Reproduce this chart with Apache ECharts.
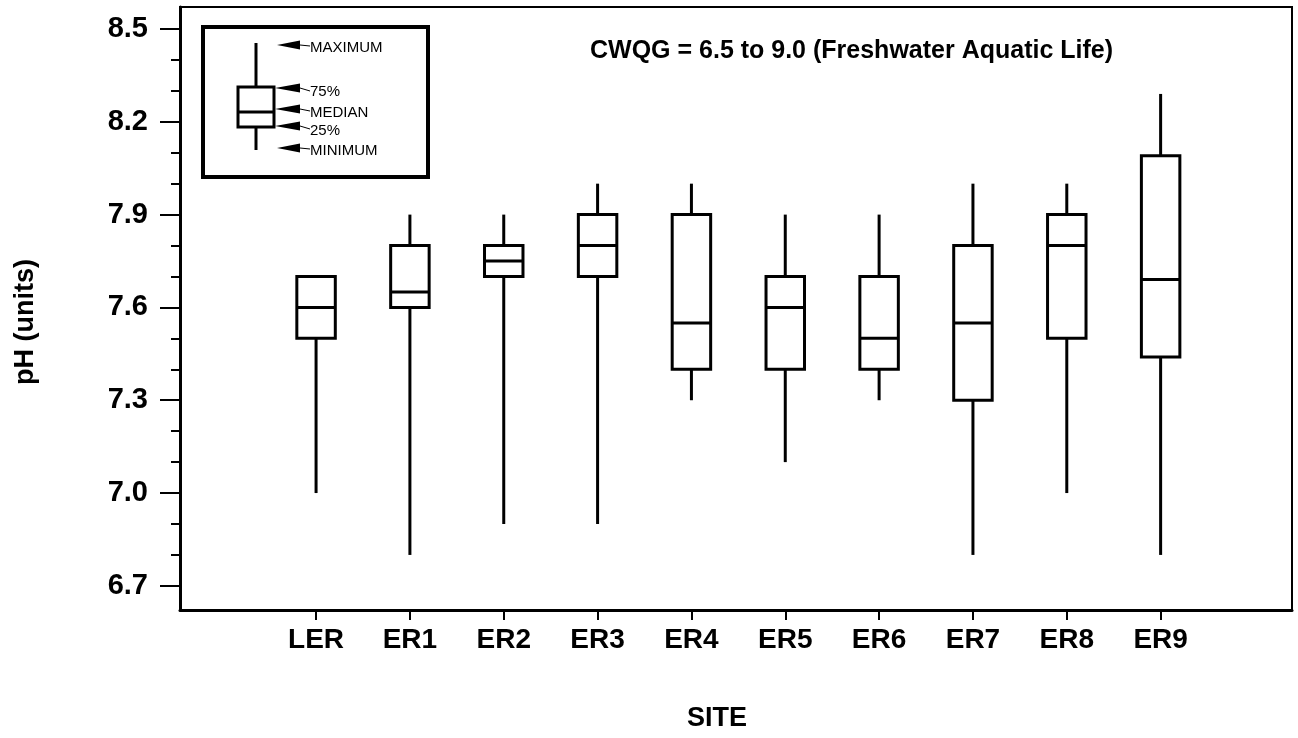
<!DOCTYPE html>
<html>
<head>
<meta charset="utf-8">
<script src="https://cdn.jsdelivr.net/npm/echarts@6/dist/echarts.min.js"></script>
<style>
html,body{margin:0;padding:0;background:#fff;}
#chart{width:1298px;height:738px;}
</style>
</head>
<body>
<div id="chart"></div>
<script>
// ---- data ----
var sites   = ['LER','ER1','ER2','ER3','ER4','ER5','ER6','ER7','ER8','ER9'];
var minimum = [7.0, 6.8, 6.9, 6.9, 7.3, 7.1, 7.3, 6.8, 7.0, 6.8];
var q25     = [7.5, 7.6, 7.7, 7.7, 7.4, 7.4, 7.4, 7.3, 7.5, 7.44];
var median  = [7.6, 7.65, 7.75, 7.8, 7.55, 7.6, 7.5, 7.55, 7.8, 7.69];
var q75     = [7.7, 7.8, 7.8, 7.9, 7.9, 7.7, 7.7, 7.8, 7.9, 8.09];
var maximum = [7.7, 7.9, 7.9, 8.0, 8.0, 7.9, 7.9, 8.0, 8.0, 8.29];
var yTickLabels = [6.7, 7.0, 7.3, 7.6, 7.9, 8.2, 8.5];
var yMinorTicks = [6.7,6.8,6.9,7.0,7.1,7.2,7.3,7.4,7.5,7.6,7.7,7.8,7.9,8.0,8.1,8.2,8.3,8.4,8.5];
var titleText = 'CWQG = 6.5 to 9.0 (Freshwater Aquatic Life)';

var boxData = sites.map(function(s, i){
  return [i, minimum[i], q25[i], median[i], q75[i], maximum[i]];
});
var siteIdx = sites.map(function(s, i){ return i; });

var FONT = "'Liberation Sans', Arial, Helvetica, sans-serif";
var chart = echarts.init(document.getElementById('chart'), null, {renderer:'canvas'});

var lineStyle = {stroke:'#000', lineWidth:3};
var keyFont = "15px 'Liberation Sans', Arial, sans-serif";

var option = {
  backgroundColor: '#fff',
  animation: false,
  title: [
    {text: titleText, left: 585, top: 34,
     textStyle:{fontFamily:FONT, fontWeight:'bold', fontSize:25, color:'#000'}},
    {text: 'SITE', left: 712, top: 700, textAlign:'center',
     textStyle:{fontFamily:FONT, fontWeight:'bold', fontSize:27, color:'#000'}}
  ],
  grid: {left:180, right:6, top:7, bottom:128, show:true, borderColor:'#000', borderWidth:2, backgroundColor:'#fff'},
  xAxis: {
    type:'value', min:-1.45, max:10.4,
    axisLine:{show:true, onZero:false, lineStyle:{color:'#000', width:3}},
    axisTick:{show:true, inside:false, length:10, customValues: siteIdx, lineStyle:{color:'#000', width:2}},
    axisLabel:{show:true, customValues: siteIdx, margin:16,
      formatter:function(v){ return sites[Math.round(v)]; },
      fontFamily:FONT, fontWeight:'bold', fontSize:28, color:'#000'},
    splitLine:{show:false}
  },
  yAxis: [{
    type:'value', min:6.622, max:8.571, position:'left', offset:0,
    axisLine:{show:true, onZero:false, lineStyle:{color:'#000', width:3}},
    axisTick:{show:true, inside:false, length:20, customValues: yTickLabels, lineStyle:{color:'#000', width:2}},
    axisLabel:{show:true, customValues: yTickLabels, margin:32,
      formatter:function(v){ return v.toFixed(1); },
      fontFamily:FONT, fontWeight:'bold', fontSize:29, color:'#000'},
    splitLine:{show:false}
  },{
    type:'value', min:6.622, max:8.571, position:'left', offset:0,
    axisLine:{show:false, onZero:false},
    axisTick:{show:true, inside:false, length:9, customValues: yMinorTicks, lineStyle:{color:'#000', width:2}},
    axisLabel:{show:false},
    splitLine:{show:false}
  }],
  series: [{
    type:'custom',
    coordinateSystem:'cartesian2d',
    xAxisIndex:0, yAxisIndex:0,
    encode:{x:0, y:[1,2,3,4,5]},
    data: boxData,
    renderItem:function(params, api){
      var x = api.value(0);
      var pMin = api.coord([x, api.value(1)]);
      var pQ1  = api.coord([x, api.value(2)]);
      var pMed = api.coord([x, api.value(3)]);
      var pQ3  = api.coord([x, api.value(4)]);
      var pMax = api.coord([x, api.value(5)]);
      var hw = api.size([0.41, 0])[0] / 2;
      return {type:'group', children:[
        {type:'line', shape:{x1:pMin[0], y1:pMin[1], x2:pQ1[0], y2:pQ1[1]}, style:lineStyle},
        {type:'line', shape:{x1:pQ3[0], y1:pQ3[1], x2:pMax[0], y2:pMax[1]}, style:lineStyle},
        {type:'rect', shape:{x:pQ1[0]-hw, y:pQ3[1], width:2*hw, height:pQ1[1]-pQ3[1]},
         style:{stroke:'#000', lineWidth:3, fill:'#fff'}},
        {type:'line', shape:{x1:pMed[0]-hw, y1:pMed[1], x2:pMed[0]+hw, y2:pMed[1]}, style:lineStyle}
      ]};
    }
  }],
  graphic: [
    {type:'text', x:26, y:322, rotation:Math.PI/2,
     style:{text:'pH (units)', font:"bold 27px 'Liberation Sans', Arial, sans-serif", fill:'#000', align:'center', verticalAlign:'middle'}},
    // explanatory key
    {type:'group', children:[
      {type:'rect', shape:{x:203, y:27, width:225, height:150}, style:{stroke:'#000', lineWidth:4, fill:'#fff'}},
      {type:'line', shape:{x1:256, y1:43, x2:256, y2:150}, style:{stroke:'#000', lineWidth:3}},
      {type:'rect', shape:{x:238, y:87, width:36, height:40}, style:{stroke:'#000', lineWidth:3, fill:'#fff'}},
      {type:'line', shape:{x1:238, y1:112, x2:274, y2:112}, style:{stroke:'#000', lineWidth:3}},
      {type:'polygon', shape:{points:[[277,45],[300,40.5],[300,49.5]]}, style:{fill:'#000'}},
      {type:'polygon', shape:{points:[[275,88],[300,83.5],[300,92.5]]}, style:{fill:'#000'}},
      {type:'polygon', shape:{points:[[275,109],[300,104.5],[300,113.5]]}, style:{fill:'#000'}},
      {type:'polygon', shape:{points:[[275,126],[300,121.5],[300,130.5]]}, style:{fill:'#000'}},
      {type:'polygon', shape:{points:[[277,148],[300,143.5],[300,152.5]]}, style:{fill:'#000'}},
      {type:'line', shape:{x1:300, y1:45, x2:310, y2:46}, style:{stroke:'#000', lineWidth:1}},
      {type:'line', shape:{x1:300, y1:88, x2:310, y2:91}, style:{stroke:'#000', lineWidth:1}},
      {type:'line', shape:{x1:300, y1:109, x2:310, y2:111}, style:{stroke:'#000', lineWidth:1}},
      {type:'line', shape:{x1:300, y1:126, x2:310, y2:129}, style:{stroke:'#000', lineWidth:1}},
      {type:'line', shape:{x1:300, y1:148, x2:310, y2:149}, style:{stroke:'#000', lineWidth:1}},
      {type:'text', x:310, y:48, style:{text:'MAXIMUM', font:keyFont, fill:'#000', verticalAlign:'middle'}},
      {type:'text', x:310, y:92, style:{text:'75%', font:keyFont, fill:'#000', verticalAlign:'middle'}},
      {type:'text', x:310, y:113, style:{text:'MEDIAN', font:keyFont, fill:'#000', verticalAlign:'middle'}},
      {type:'text', x:310, y:131, style:{text:'25%', font:keyFont, fill:'#000', verticalAlign:'middle'}},
      {type:'text', x:310, y:151, style:{text:'MINIMUM', font:keyFont, fill:'#000', verticalAlign:'middle'}}
    ]}
  ]
};
chart.setOption(option);
</script>
</body>
</html>
